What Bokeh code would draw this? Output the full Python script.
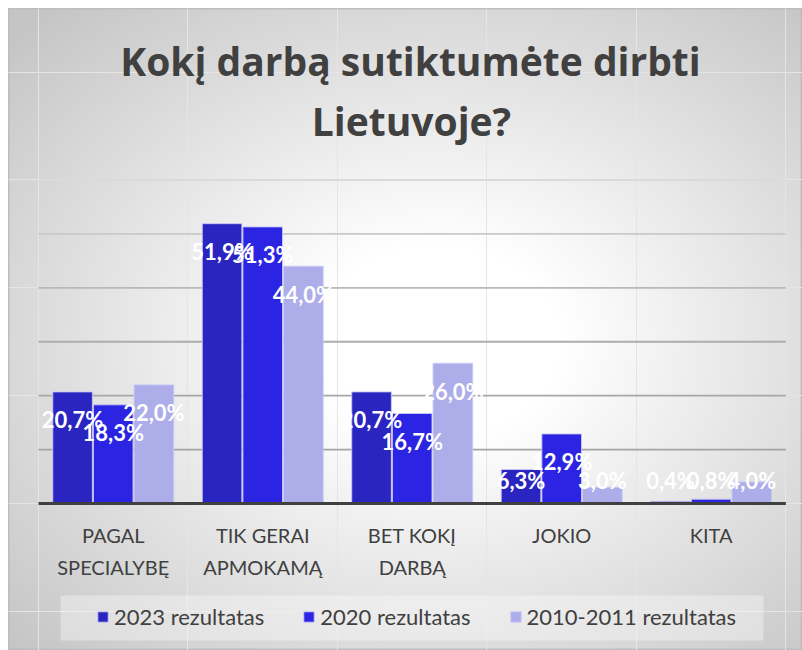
from bokeh.plotting import figure
from bokeh.models import ColumnDataSource, Legend, LegendItem, Range1d
from bokeh.core.properties import value
from bokeh.embed import file_html
from bokeh.resources import INLINE

# ---------------- data ----------------
categories = ["PAGAL\nSPECIALYBĘ", "TIK GERAI\nAPMOKAMĄ", "BET KOKĮ\nDARBĄ", "JOKIO", "KITA"]
series_names = ["2023 rezultatas", "2020 rezultatas", "2010-2011 rezultatas"]
v2023 = [20.7, 51.9, 20.7, 6.3, 0.4]
v2020 = [18.3, 51.3, 16.7, 12.9, 0.8]
v2010 = [22.0, 44.0, 26.0, 3.0, 4.0]
grid_values = [10, 20, 30, 40, 50, 60]
title_lines = ["Kokį darbą sutiktumėte dirbti", "Lietuvoje?"]

# ---------------- styles ----------------
colors = ["#2a24c0", "#2b24e2", "#adadea"]
grid_colors = ["#a4a4a4", "#a7a7a7", "#adadad", "#b9b9b9", "#c9c9c9", "#dadada"]
offsets = [-0.272, 0.0, 0.272]
bar_w = 0.265
FONT = "Lato"
TFONT = "Open Sans"
TXT = "#404040"

W, H = 794, 642
OFF = 8  # canvas sits at page (8, 8)
X0_PAGE, UNIT_X = 38.0, 149.48
Y0_PAGE, UNIT_Y = 503.0, 5.3917


def px(page_x):
    return (page_x - X0_PAGE) / UNIT_X


def py(page_y):
    return (Y0_PAGE - page_y) / UNIT_Y


p = figure(width=W, height=H, output_backend="svg", toolbar_location=None,
           title=None, x_axis_location=None, y_axis_location=None,
           min_border=0, min_border_left=0, min_border_right=0,
           min_border_top=0, min_border_bottom=0)
p.x_range = Range1d(px(OFF), px(OFF + W))
p.y_range = Range1d(py(OFF + H), py(OFF))
p.background_fill_alpha = 0
p.border_fill_alpha = 0
p.outline_line_color = "#bdbdbd"
p.outline_line_width = 2
p.styles = {
    "margin-left": "8px",
    "margin-top": "8px",
    "background": "radial-gradient(ellipse farthest-corner at 54% 52%, #ffffff 0%, #ffffff 20%, #c5c5c5 95%)",
}

# grid lines
n = len(categories)
p.segment(x0=[0] * len(grid_values), x1=[n] * len(grid_values), y0=grid_values, y1=grid_values,
          line_color=grid_colors, line_width=1.8)

# bars
renderers = []
for vals, col, off in zip([v2023, v2020, v2010], colors, offsets):
    src = ColumnDataSource(dict(x=[i + 0.5 + off for i in range(n)], top=vals))
    r = p.vbar(x="x", top="top", bottom=0, width=bar_w, source=src,
               fill_color=col, line_color="#c9c9f5", line_width=1, line_alpha=0.9)
    renderers.append(r)

# baseline
p.segment(x0=[0], x1=[n], y0=[0], y1=[0], line_color="#404040", line_width=3)

# value labels (inside end)
min_lab = py(480)
for vals, off in zip([v2023, v2020, v2010], offsets):
    src = ColumnDataSource(dict(
        x=[i + 0.5 + off for i in range(n)],
        y=[max(v - 28 / UNIT_Y, min_lab) for v in vals],
        t=[("%.1f%%" % v).replace(".", ",") for v in vals]))
    p.text(x="x", y="y", text="t", source=src, text_color="white",
           text_font=value(FONT), text_font_style="bold", text_font_size="22px",
           text_align="center", text_baseline="middle")

# category labels
line1 = [c.split("\n")[0] for c in categories]
line2 = [c.split("\n")[1] if "\n" in c else "" for c in categories]
cx = [i + 0.5 for i in range(n)]
p.text(x=cx, y=[py(534.5)] * n, text=line1, text_color=TXT, text_font=value(FONT),
       text_font_size="20px", text_align="center", text_baseline="middle")
p.text(x=cx, y=[py(566.5)] * n, text=line2, text_color=TXT, text_font=value(FONT),
       text_font_size="20px", text_align="center", text_baseline="middle")

# title
p.text(x=[px(410)], y=[py(59.5)], text=[title_lines[0]], text_color=TXT, text_font=value(TFONT),
       text_font_style="bold", text_font_size="39px", text_align="center", text_baseline="middle")
p.text(x=[px(411)], y=[py(119.5)], text=[title_lines[1]], text_color=TXT, text_font=value(TFONT),
       text_font_style="bold", text_font_size="39px", text_align="center", text_baseline="middle")

# legend box
p.quad(left=[px(60)], right=[px(763)], bottom=[py(640)], top=[py(595)],
       fill_color="white", fill_alpha=0.35, line_alpha=0)

legend = Legend(items=[LegendItem(label=nm, renderers=[r]) for nm, r in zip(series_names, renderers)],
                orientation="horizontal", location=(78, 10),
                background_fill_alpha=0, border_line_alpha=0,
                label_text_font=FONT, label_text_font_size="22px", label_text_color=TXT,
                glyph_width=13, glyph_height=13, label_standoff=5, spacing=38, padding=10)
p.add_layout(legend)

open("out.html", "w").write(file_html(p, INLINE))
